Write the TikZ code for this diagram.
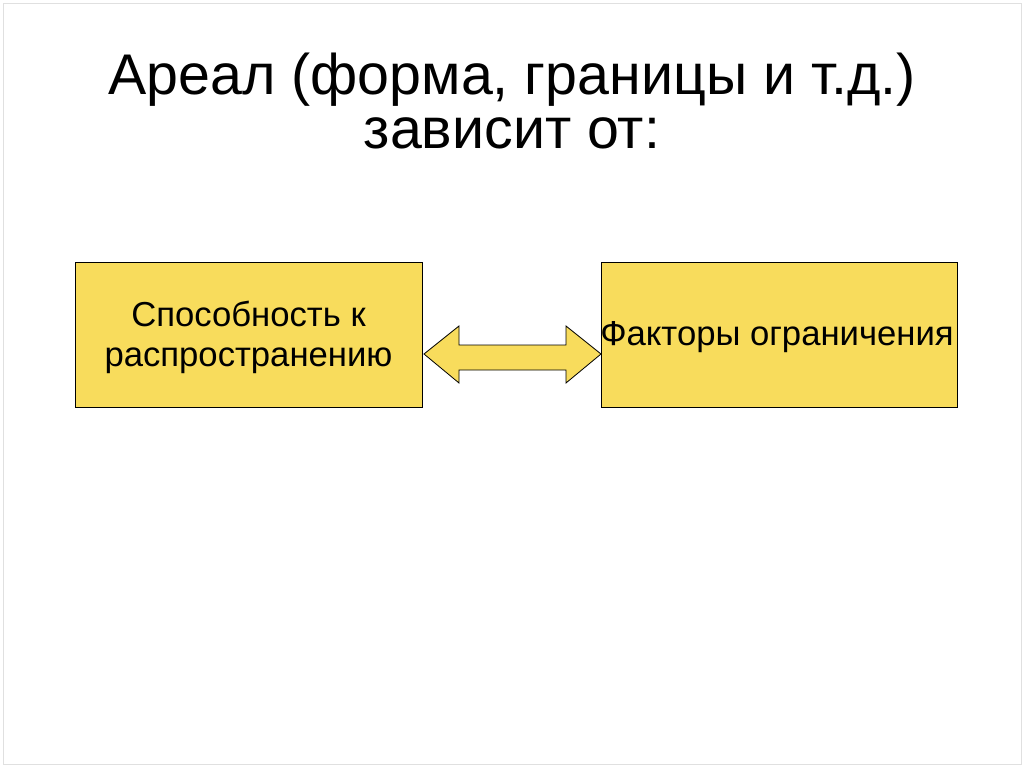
\documentclass[tikz,border=0pt]{standalone}
\usepackage{fontspec}
\setmainfont{Liberation Sans}
\definecolor{boxy}{RGB}{248,220,92}
\tikzset{ybox/.style={draw=black,fill=boxy,line width=0.6pt},
btext/.style={font=\fontsize{26}{30}\selectfont,align=center}}
\begin{document}
\begin{tikzpicture}[x=0.75pt,y=-0.75pt]
\useasboundingbox (0,0) rectangle (1024,767);
\draw[black!12] (3,3) rectangle (1021,764);
\node[font=\fontsize{43}{41}\selectfont,align=center] (title) at (512,101) {Ареал (форма, границы и т.д.)\\зависит от:};
\draw[ybox] (75,262) rectangle (422,407);
\node[btext] (a) at (248.5,337) {Способность к\\распространению};
\draw[ybox] (601,262) rectangle (957,407);
\node[btext,inner sep=0pt] (b) at (777,337) {Факторы ограничения};
\draw[ybox] (424,354) -- (459,326) -- (459,345) -- (566,345) -- (566,326) -- (601,354) -- (566,383) -- (566,370) -- (459,370) -- (459,383) -- cycle;
\end{tikzpicture}
\end{document}
